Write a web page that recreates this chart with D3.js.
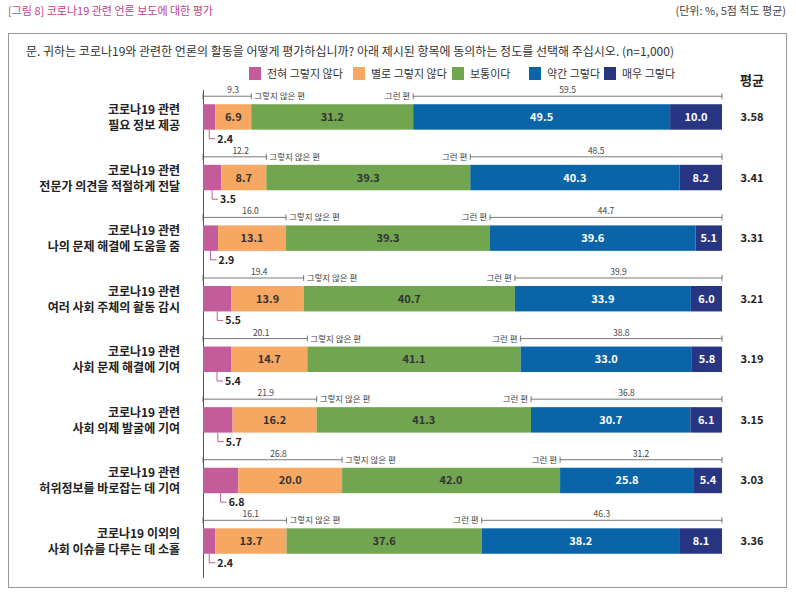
<!DOCTYPE html>
<html><head><meta charset="utf-8">
<script src="https://cdn.jsdelivr.net/npm/d3@7"></script>
<style>body{margin:0;background:#fff;font-family:"Noto Sans CJK KR","Noto Sans",sans-serif}</style>
</head><body><div id="chart"></div>
<script>
const categories = [
  ["코로나19 관련","필요 정보 제공"],
  ["코로나19 관련","전문가 의견을 적절하게 전달"],
  ["코로나19 관련","나의 문제 해결에 도움을 줌"],
  ["코로나19 관련","여러 사회 주체의 활동 감시"],
  ["코로나19 관련","사회 문제 해결에 기여"],
  ["코로나19 관련","사회 의제 발굴에 기여"],
  ["코로나19 관련","허위정보를 바로잡는 데 기여"],
  ["코로나19 이외의","사회 이슈를 다루는 데 소홀"]
];
const seriesNames = ["전혀 그렇지 않다","별로 그렇지 않다","보통이다","약간 그렇다","매우 그렇다"];
const colors = ["#c45b9b","#f6a862","#72a550","#0a64a8","#283583"];
const values = [
  [2.4,6.9,31.2,49.5,10.0],
  [3.5,8.7,39.3,40.3,8.2],
  [2.9,13.1,39.3,39.6,5.1],
  [5.5,13.9,40.7,33.9,6.0],
  [5.4,14.7,41.1,33.0,5.8],
  [5.7,16.2,41.3,30.7,6.1],
  [6.8,20.0,42.0,25.8,5.4],
  [2.4,13.7,37.6,38.2,8.1]
];
const negTotals = [9.3,12.2,16.0,19.4,20.1,21.9,26.8,16.1];
const posTotals = [59.5,48.5,44.7,39.9,38.8,36.8,31.2,46.3];
const means = ["3.58","3.41","3.31","3.21","3.19","3.15","3.03","3.36"];

const W=796,H=592;
const svg=d3.select("#chart").append("svg").attr("width",W).attr("height",H);
svg.append("text").attr("x",8).attr("y",15).attr("fill","#c2408a").attr("font-size",11).text("[그림 8] 코로나19 관련 언론 보도에 대한 평가");
svg.append("text").attr("x",786).attr("y",15).attr("text-anchor","end").attr("fill","#444").attr("font-size",11).text("(단위: %, 5점 척도 평균)");
svg.append("rect").attr("x",8.5).attr("y",33.5).attr("width",778).attr("height",554).attr("fill","none").attr("stroke","#999");
svg.append("text").attr("x",26).attr("y",56).attr("fill","#333").attr("font-size",12).text("문. 귀하는 코로나19와 관련한 언론의 활동을 어떻게 평가하십니까? 아래 제시된 항목에 동의하는 정도를 선택해 주십시오. (n=1,000)");

const legX=[249,353,452,529,604];
seriesNames.forEach((n,i)=>{
  svg.append("rect").attr("x",legX[i]).attr("y",67).attr("width",12).attr("height",13).attr("fill",colors[i]);
  svg.append("text").attr("x",legX[i]+18).attr("y",78).attr("font-size",11).attr("fill","#333").text(n);
});
svg.append("text").attr("x",752).attr("y",85).attr("text-anchor","middle").attr("font-size",13).attr("font-weight","bold").attr("fill","#222").text("평균");

const x=d3.scaleLinear().domain([0,100]).range([203,722]);
const y=d3.scaleBand().domain(d3.range(categories.length)).range([80,578]).paddingInner(0.58).paddingOuter(0.4);
svg.append("line").attr("x1",203.5).attr("x2",203.5).attr("y1",90).attr("y2",578).attr("stroke","#555");

categories.forEach((c,r)=>{
  const g=svg.append("g");
  const by=y(r),bh=y.bandwidth();
  let acc=0;
  values[r].forEach((v,i)=>{
    g.append("rect").attr("x",x(acc)).attr("y",by).attr("width",x(acc+v)-x(acc)).attr("height",bh).attr("fill",colors[i]);
    if(i>0) g.append("text").attr("x",(x(acc)+x(acc+v))/2).attr("y",by+bh/2+4).attr("text-anchor","middle")
      .attr("font-size",11).attr("font-weight","bold").attr("fill",i>=3?"#fff":"#333").text(v.toFixed(1));
    acc+=v;
  });
  c.forEach((t,k)=>g.append("text").attr("x",180).attr("y",by+bh/2-3+k*16).attr("text-anchor","end")
    .attr("font-size",12).attr("font-weight","bold").attr("fill","#222").text(t));
  const px=x(values[r][0]/2);
  g.append("path").attr("d",`M${px},${by+bh}V${by+bh+9}H${px+6}`).attr("fill","none").attr("stroke","#c45b9b");
  g.append("text").attr("x",px+8).attr("y",by+bh+13).attr("font-size",10.5).attr("font-weight","bold").attr("fill","#222").text(values[r][0].toFixed(1));
  const ly=by-8;
  const neg=values[r][0]+values[r][1];
  const posStart=neg+values[r][2];
  const br=(x1,x2)=>{
    g.append("line").attr("x1",x1).attr("x2",x2).attr("y1",ly).attr("y2",ly).attr("stroke","#555").attr("stroke-width",0.8);
    [x1,x2].forEach(xx=>g.append("line").attr("x1",xx).attr("x2",xx).attr("y1",ly-3).attr("y2",ly+3).attr("stroke","#555").attr("stroke-width",0.8));
  };
  br(x(0),x(neg)); br(x(posStart),x(100));
  g.append("text").attr("x",(x(0)+x(neg))/2+6).attr("y",ly-3).attr("text-anchor","middle").attr("font-size",8.5).attr("fill","#444").text(negTotals[r].toFixed(1));
  g.append("text").attr("x",(x(posStart)+x(100))/2).attr("y",ly-3).attr("text-anchor","middle").attr("font-size",8.5).attr("fill","#444").text(posTotals[r].toFixed(1));
  g.append("text").attr("x",x(neg)+3).attr("y",ly+3).attr("font-size",8.5).attr("fill","#444").text("그렇지 않은 편");
  g.append("text").attr("x",x(posStart)-3).attr("y",ly+3).attr("text-anchor","end").attr("font-size",8.5).attr("fill","#444").text("그런 편");
  g.append("text").attr("x",752).attr("y",by+bh/2+4).attr("text-anchor","middle").attr("font-size",11).attr("font-weight","bold").attr("fill","#222").text(means[r]);
});
</script></body></html>
